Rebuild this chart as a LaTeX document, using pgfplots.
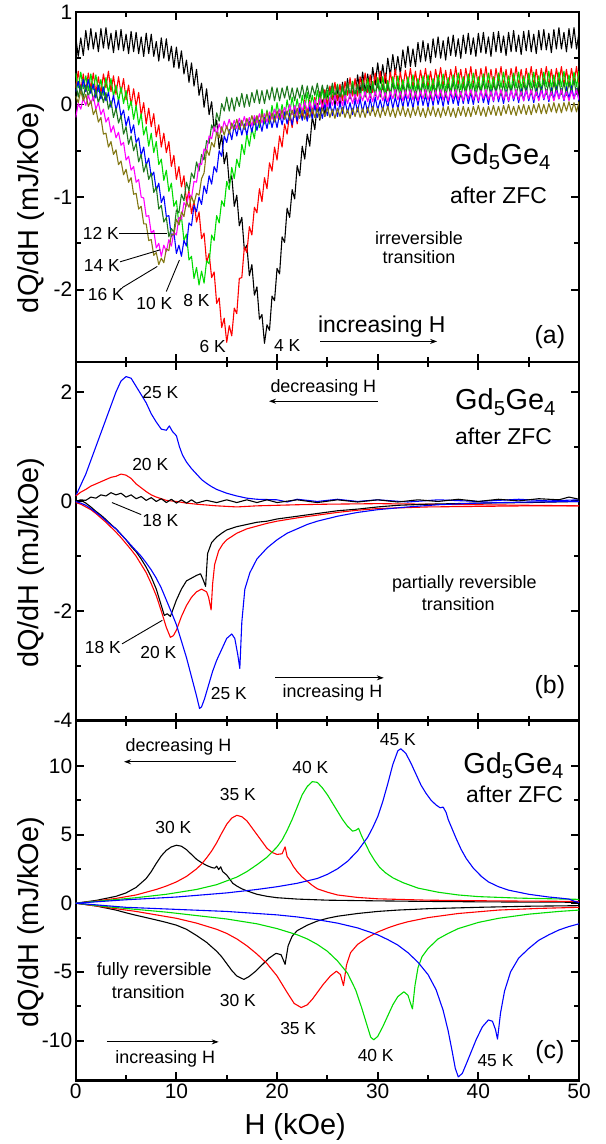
\documentclass[border=0pt]{standalone}
\usepackage{fontspec}
\setmainfont{Liberation Sans}
\usepackage{pgfplots}
\usepackage{pgfplotstable}
\pgfplotsset{compat=1.18}
\usetikzlibrary{arrows.meta}

\definecolor{lgreen}{RGB}{0,220,0}
\definecolor{dkgreen}{RGB}{30,120,30}
\definecolor{olive2}{RGB}{130,120,20}
\definecolor{mag}{RGB}{255,0,255}

\newcommand\fT{\fontsize{18}{20}\selectfont}
\newcommand\fK{\fontsize{17.5}{20}\selectfont}
\newcommand\fG{\fontsize{29}{32}\selectfont}
\newcommand\fZ{\fontsize{23}{26}\selectfont}
\newcommand\fP{\fontsize{25}{28}\selectfont}
\newcommand\Gd{Gd\textsubscript{5}Ge\textsubscript{4}}

% panel (a): field-increasing runs at low T, one column per temperature
\pgfplotstableread{
H k4 k6 k8 k10 k12 k14 k16
0 .73 .18 .34 .14 .23 -.14 .09
0.25 .52 .36 .18 .25 .08 .01 .02
0.5 .72 .15 .35 .12 .21 -.05 .15
0.75 .53 .33 .17 .27 .07 .07 .04
1 .80 .14 .31 .14 .21 -.01 .11
1.25 .59 .34 .15 .27 .08 .10 -.02
1.5 .82 .17 .33 .12 .20 .01 .04
1.75 .60 .34 .16 .22 .04 .09 -.11
2 .78 .12 .32 .07 .16 -.05 -.05
2.25 .57 .30 .14 .21 .01 .02 -.19
2.5 .82 .12 .27 .06 .14 -.11 -.14
2.75 .61 .33 .10 .19 .02 -.05 -.32
3 .83 .18 .29 .04 .13 -.19 -.31
3.25 .60 .36 .12 .13 -.05 -.14 -.46
3.5 .77 .14 .28 -.03 .04 -.30 -.40
3.75 .56 .31 .09 .10 -.14 -.23 -.54
4 .80 .11 .21 -.06 -.04 -.36 -.49
4.25 .59 .30 .03 .05 -.20 -.30 -.65
4.5 .81 .12 .19 -.13 -.12 -.44 -.61
4.75 .58 .28 .01 -.06 -.32 -.41 -.76
5 .76 .05 .15 -.23 -.24 -.60 -.70
5.25 .55 .21 -.06 -.13 -.43 -.56 -.84
5.5 .79 -.01 .04 -.31 -.34 -.71 -.79
5.75 .57 .17 -.16 -.22 -.50 -.67 -.97
6 .78 -.02 -.01 -.41 -.42 -.84 -.96
6.25 .55 .13 -.22 -.36 -.62 -.81 -1.13
6.5 .73 -.12 -.10 -.55 -.54 -1.00 -1.10
6.75 .52 .02 -.33 -.46 -.73 -1.01 -1.29
7 .77 -.21 -.24 -.66 -.64 -1.21 -1.29
7.25 .55 -.04 -.45 -.58 -.81 -1.20 -1.47
7.5 .76 -.24 -.31 -.78 -.74 -1.39 -1.46
7.75 .52 -.10 -.52 -.73 -.95 -1.36 -1.63
8 .68 -.35 -.40 -.93 -.89 -1.55 -1.60
8.25 .47 -.22 -.65 -.85 -1.13 -1.50 -1.73
8.5 .72 -.46 -.59 -1.06 -1.09 -1.64 -1.66
8.75 .50 -.31 -.82 -.99 -1.27 -1.52 -1.71
9 .71 -.52 -.71 -1.21 -1.22 -1.59 -1.56
9.25 .47 -.40 -.94 -1.20 -1.43 -1.46 -1.58
9.5 .63 -.67 -.85 -1.43 -1.34 -1.53 -1.40
9.75 .40 -.55 -1.10 -1.38 -1.38 -1.38 -1.41
10 .62 -.81 -1.04 -1.61 -1.14 -1.41 -1.24
10.25 .39 -.67 -1.30 -1.52 -1.17 -1.22 -1.30
10.5 .58 -.89 -1.21 -1.64 -.97 -1.24 -1.16
10.75 .33 -.77 -1.47 -1.47 -1.04 -1.06 -1.21
11 .48 -1.05 -1.40 -1.53 -.84 -1.10 -1.05
11.25 .24 -.93 -1.68 -1.28 -.93 -.96 -1.11
11.5 .45 -1.18 -1.64 -1.31 -.74 -1.01 -.99
11.75 .20 -1.04 -1.88 -1.09 -.80 -.83 -1.07
12 .38 -1.27 -1.76 -1.16 -.62 -.84 -.96
12.25 .10 -1.16 -1.95 -1.00 -.72 -.64 -.98
12.5 .23 -1.45 -1.80 -1.08 -.54 -.65 -.80
12.75 -.03 -1.39 -1.93 -.88 -.60 -.48 -.74
13 .17 -1.71 -1.69 -.96 -.39 -.51 -.49
13.25 -.11 -1.61 -1.72 -.77 -.42 -.34 -.55
13.5 .03 -1.87 -1.41 -.86 -.22 -.37 -.41
13.75 -.27 -1.81 -1.47 -.67 -.29 -.24 -.46
14 -.17 -2.15 -1.20 -.73 -.09 -.32 -.30
14.25 -.48 -2.09 -1.28 -.50 -.18 -.21 -.36
14.5 -.33 -2.41 -1.04 -.56 .01 -.30 -.24
14.75 -.64 -2.31 -1.10 -.34 -.07 -.18 -.33
15 -.52 -2.57 -.83 -.41 .08 -.26 -.23
15.25 -.85 -2.39 -.92 -.27 -.07 -.16 -.32
15.5 -.77 -2.50 -.68 -.38 .07 -.26 -.20
15.75 -1.10 -2.20 -.80 -.22 -.07 -.17 -.27
16 -.98 -2.26 -.59 -.34 .08 -.26 -.16
16.25 -1.31 -1.88 -.68 -.20 -.02 -.15 -.27
16.5 -1.22 -1.87 -.43 -.33 .12 -.23 -.17
16.75 -1.57 -1.54 -.54 -.21 -.03 -.13 -.27
17 -1.52 -1.60 -.32 -.33 .11 -.23 -.15
17.25 -1.85 -1.32 -.45 -.18 -.02 -.14 -.23
17.5 -1.73 -1.41 -.26 -.30 .13 -.23 -.12
17.75 -2.06 -1.11 -.37 -.15 .02 -.12 -.22
18 -1.97 -1.17 -.13 -.28 .16 -.20 -.12
18.25 -2.32 -.91 -.25 -.17 .01 -.10 -.22
18.5 -2.27 -1.05 -.05 -.29 .15 -.20 -.10
18.75 -2.58 -.79 -.21 -.14 .01 -.10 -.19
19 -2.38 -.91 -.06 -.26 .16 -.19 -.08
19.25 -2.44 -.63 -.21 -.12 .05 -.08 -.19
19.5 -2.07 -.72 -.01 -.25 .19 -.16 -.09
19.75 -2.12 -.46 -.16 -.13 .04 -.05 -.19
20 -1.77 -.60 .02 -.25 .18 -.15 -.07
20.25 -1.83 -.34 -.15 -.10 .04 -.05 -.16
20.5 -1.43 -.46 .00 -.22 .18 -.15 -.06
20.75 -1.49 -.21 -.15 -.08 .07 -.03 -.16
21 -1.12 -.32 .05 -.21 .20 -.11 -.07
21.25 -1.22 -.09 -.10 -.09 .05 .00 -.17
21.5 -.92 -.25 .08 -.22 .18 -.11 -.06
21.75 -1.02 -.04 -.09 -.06 .04 -.01 -.14
22 -.66 -.21 .06 -.18 .18 -.11 -.04
22.25 -.77 .01 -.10 -.04 .07 .01 -.15
22.5 -.45 -.14 .10 -.17 .21 -.07 -.06
22.75 -.59 .05 -.05 -.06 .06 .03 -.16
23 -.32 -.15 .13 -.18 .20 -.07 -.05
23.25 -.45 .05 -.05 -.03 .06 .03 -.14
23.5 -.13 -.13 .10 -.15 .20 -.07 -.04
23.75 -.27 .08 -.05 -.01 .10 .05 -.14
24 .01 -.07 .15 -.14 .23 -.04 -.05
24.25 -.17 .14 .00 -.03 .08 .07 -.15
24.5 .05 -.05 .17 -.15 .21 -.04 -.04
24.75 -.13 .16 .00 .00 .07 .06 -.13
25 .15 -.01 .15 -.12 .21 -.04 -.03
25.25 -.04 .20 .00 .02 .10 .08 -.14
25.5 .20 .05 .19 -.12 .23 -.01 -.05
25.75 -.02 .24 .04 .00 .08 .10 -.15
26 .18 .04 .22 -.13 .21 -.01 -.04
26.25 -.02 .22 .04 .02 .07 .08 -.13
26.5 .24 .04 .19 -.10 .21 -.01 -.03
26.75 .04 .25 .03 .04 .10 .10 -.14
27 .28 .10 .23 -.09 .23 .01 -.05
27.25 .06 .29 .07 .02 .08 .12 -.15
27.5 .25 .09 .25 -.11 .21 .01 -.04
27.75 .05 .28 .07 .05 .07 .11 -.13
28 .32 .09 .22 -.08 .21 .01 -.03
28.25 .12 .30 .06 .06 .10 .12 -.14
28.5 .35 .15 .26 -.08 .23 .04 -.04
28.75 .13 .34 .10 .04 .08 .14 -.14
29 .33 .13 .28 -.09 .21 .03 -.03
29.25 .13 .32 .10 .06 .07 .12 -.12
29.5 .40 .13 .25 -.07 .21 .03 -.02
29.75 .21 .34 .09 .08 .10 .14 -.13
30 .45 .18 .29 -.06 .23 .05 -.04
30.25 .23 .36 .13 .05 .08 .15 -.14
30.5 .43 .16 .30 -.07 .21 .04 -.03
30.75 .23 .34 .12 .08 .07 .13 -.12
31 .50 .15 .26 -.04 .21 .03 -.02
31.25 .31 .35 .10 .10 .10 .14 -.13
31.5 .54 .20 .30 -.04 .23 .06 -.04
31.75 .33 .38 .14 .08 .08 .16 -.14
32 .52 .17 .31 -.05 .21 .05 -.03
32.25 .33 .35 .13 .10 .07 .14 -.12
32.5 .59 .17 .27 -.03 .21 .04 -.02
32.75 .40 .37 .11 .12 .10 .15 -.13
33 .63 .21 .30 -.02 .23 .06 -.04
33.25 .41 .39 .14 .09 .08 .16 -.14
33.5 .60 .18 .32 -.04 .21 .05 -.03
33.75 .41 .36 .14 .12 .07 .14 -.12
34 .67 .17 .28 -.01 .21 .04 -.02
34.25 .46 .37 .12 .13 .10 .15 -.13
34.5 .69 .21 .31 -.01 .23 .06 -.04
34.75 .47 .39 .15 .10 .08 .16 -.14
35 .66 .18 .32 -.03 .21 .05 -.03
35.25 .45 .36 .14 .12 .07 .14 -.12
35.5 .71 .17 .28 -.01 .21 .04 -.02
35.75 .51 .38 .12 .14 .10 .15 -.13
36 .73 .22 .32 .00 .24 .06 -.04
36.25 .50 .40 .16 .11 .09 .16 -.14
36.5 .69 .19 .33 -.02 .22 .05 -.03
36.75 .48 .37 .15 .13 .08 .14 -.12
37 .73 .18 .29 .00 .22 .04 -.02
37.25 .53 .38 .13 .14 .11 .15 -.13
37.5 .75 .22 .32 .01 .24 .06 -.04
37.75 .52 .41 .16 .12 .09 .16 -.14
38 .71 .20 .34 -.01 .22 .05 -.03
38.25 .50 .38 .16 .14 .08 .14 -.12
38.5 .75 .19 .30 .01 .22 .04 -.02
38.75 .55 .39 .14 .15 .11 .15 -.13
39 .77 .23 .33 .01 .25 .06 -.03
39.25 .54 .41 .17 .13 .10 .16 -.13
39.5 .72 .20 .34 .00 .23 .05 -.02
39.75 .52 .38 .16 .15 .09 .14 -.11
40 .77 .19 .30 .02 .23 .04 -.01
40.25 .56 .39 .14 .16 .12 .15 -.12
40.5 .78 .23 .33 .02 .25 .06 -.03
40.75 .55 .41 .17 .13 .10 .16 -.13
41 .73 .20 .34 .00 .23 .05 -.02
41.25 .52 .38 .16 .16 .09 .14 -.11
41.5 .78 .19 .30 .03 .23 .04 -.01
41.75 .57 .39 .14 .17 .12 .15 -.12
42 .79 .23 .34 .03 .25 .06 -.02
42.25 .56 .41 .18 .14 .10 .16 -.12
42.5 .74 .20 .35 .01 .23 .05 -.01
42.75 .53 .38 .17 .16 .09 .14 -.10
43 .78 .19 .31 .03 .23 .04 .00
43.25 .57 .39 .15 .17 .12 .15 -.11
43.5 .80 .23 .34 .04 .25 .06 -.02
43.75 .57 .41 .18 .15 .10 .16 -.12
44 .75 .20 .35 .02 .23 .05 -.01
44.25 .54 .38 .17 .17 .09 .14 -.10
44.5 .79 .19 .31 .04 .23 .04 .00
44.75 .58 .39 .15 .18 .12 .15 -.11
45 .80 .23 .34 .04 .26 .06 -.01
45.25 .57 .41 .18 .15 .11 .16 -.11
45.5 .76 .20 .35 .02 .24 .05 .00
45.75 .55 .38 .17 .17 .10 .14 -.09
46 .80 .19 .31 .05 .24 .04 .01
46.25 .59 .39 .15 .19 .13 .15 -.10
46.5 .81 .23 .35 .05 .26 .06 .00
46.75 .59 .41 .19 .16 .11 .16 -.10
47 .77 .20 .36 .03 .24 .05 .01
47.25 .56 .38 .18 .18 .10 .14 -.08
47.5 .81 .19 .32 .05 .24 .04 .02
47.75 .60 .39 .16 .19 .13 .15 -.09
48 .83 .23 .35 .06 .26 .06 .01
48.25 .60 .41 .19 .17 .11 .16 -.09
48.5 .78 .20 .36 .04 .24 .05 .02
48.75 .57 .38 .18 .19 .10 .14 -.07
49 .82 .19 .32 .06 .24 .04 .03
49.25 .61 .39 .16 .20 .13 .15 -.08
49.5 .83 .23 .35 .06 .26 .06 .02
49.75 .60 .41 .19 .17 .11 .16 -.08
50 .78 .20 .36 .04 .24 .05 .03
}\lowT

\pgfplotsset{
  panel/.style={
    width=505pt, scale only axis,
    xmin=0, xmax=50, xtick={0,10,...,50}, minor x tick num=1,
    minor y tick num=1,
    axis line style={line width=2.4pt},
    tick align=inside, major tick length=8pt, minor tick length=5pt,
    tick style={line width=2pt, black},
    tick label style={font=\fontsize{21}{24}\selectfont},
    label style={font=\fontsize{29}{32}\selectfont},
    ylabel={dQ/dH (mJ/kOe)},
    every axis y label/.style={at={(axis description cs:-0.089,0.44)}, rotate=90,
      anchor=center, font=\fontsize{29}{32}\selectfont},
    /pgf/number format/assume math mode=true,
    no markers,
    every axis plot/.append style={line width=1.1pt, line join=round},
  },
}

\begin{document}
\begin{tikzpicture}
% ---------------- (a) irreversible ----------------
\begin{axis}[panel, name=a, at={(0,0)}, anchor=north west,
    height=351pt, ymin=-2.78, ymax=1, ytick={-2,-1,0,1}, xticklabels={}]
  \addplot[black]  table[x=H, y=k4]  {\lowT};
  \addplot[red]    table[x=H, y=k6]  {\lowT};
  \addplot[lgreen] table[x=H, y=k8]  {\lowT};
  \addplot[blue]   table[x=H, y=k10] {\lowT};
  \addplot[dkgreen] table[x=H, y=k12] {\lowT};
  \addplot[mag]    table[x=H, y=k14] {\lowT};
  \addplot[olive2] table[x=H, y=k16] {\lowT};

  \node[font=\fK] at (axis cs:2.5,-1.39) {12 K};
  \draw[line width=0.9pt] (axis cs:4.3,-1.39) -- (axis cs:9.1,-1.39);
  \node[font=\fK] at (axis cs:2.6,-1.74) {14 K};
  \draw[line width=0.9pt] (axis cs:4.4,-1.70) -- (axis cs:8.4,-1.57);
  \node[font=\fK] at (axis cs:3.0,-2.05) {16 K};
  \draw[line width=0.9pt] (axis cs:4.6,-1.98) -- (axis cs:8.1,-1.75);
  \node[font=\fK] at (axis cs:7.8,-2.15) {10 K};
  \draw[line width=0.9pt] (axis cs:9.0,-2.02) -- (axis cs:10.3,-1.68);
  \node[font=\fK] at (axis cs:12.0,-2.12) {8 K};
  \node[font=\fK] at (axis cs:13.6,-2.62) {6 K};
  \node[font=\fK] at (axis cs:21.0,-2.60) {4 K};

  \node[font=\fontsize{23}{26}\selectfont] at (axis cs:30.4,-2.40) {increasing H};
  \draw[line width=0.9pt, -{Stealth[length=7pt,width=5pt]}] (axis cs:24.3,-2.56) -- (axis cs:35.9,-2.56);
  \node[font=\fP] at (axis cs:47.1,-2.51) {(a)};
  \node[font=\fG] at (axis cs:42.2,-0.56) {\Gd};
  \node[font=\fZ] at (axis cs:42.0,-0.98) {after ZFC};
  \node[font=\fT] at (axis cs:34.1,-1.44) {irreversible};
  \node[font=\fT] at (axis cs:34.1,-1.65) {transition};
\end{axis}

% ---------------- (b) partially reversible ----------------
\begin{axis}[panel, name=b, at={(a.south west)}, anchor=north west,
    height=360pt, ymin=-4, ymax=2.55, ytick={-4,-2,0,2}, xticklabels={}]
  % 25 K decreasing field
  \addplot[blue] coordinates {(0,0.1)(0.5,0.3)(1,0.5)(1.5,0.75)(2,1.0)(2.5,1.25)(3,1.5)(3.5,1.75)(4,2.0)(4.5,2.2)(5,2.28)(5.5,2.25)(6,2.1)(6.5,1.95)(7,1.8)(7.5,1.6)(8,1.45)(8.5,1.32)(9,1.3)(9.3,1.38)(9.6,1.28)(10,1.2)(10.3,1.0)(10.6,0.85)(11,0.72)(11.5,0.6)(12,0.5)(12.5,0.4)(13,0.33)(13.5,0.27)(14,0.22)(15,0.15)(16,0.1)(17,0.06)(18,0.04)(20,0.03)(21,-0.01)(22,0.04)(24,0.0)(26,0.04)(28,0.0)(30,0.03)(33,-0.01)(36,0.03)(40,0.0)(44,0.04)(47,0.01)(50,0.03)};
  % 20 K decreasing field
  \addplot[red] coordinates {(0,0.1)(0.5,0.17)(1,0.22)(1.5,0.28)(2,0.32)(2.5,0.36)(3,0.4)(3.5,0.44)(4,0.46)(4.5,0.5)(5,0.48)(5.5,0.42)(6,0.32)(6.5,0.25)(7,0.18)(7.5,0.12)(8,0.08)(9,0.02)(10,0.0)(11,-0.03)(12,-0.05)(14,-0.08)(16,-0.1)(18,-0.08)(20,-0.07)(22,-0.06)(25,-0.05)(30,-0.04)(35,-0.05)(40,-0.06)(45,-0.07)(50,-0.08)};
  % 18 K decreasing field
  \addplot[black] coordinates {(0,0.0)(0.5,0.03)(1,0.02)(1.5,0.08)(2,0.06)(2.5,0.12)(3,0.1)(3.5,0.16)(4,0.12)(4.5,0.15)(5,0.08)(5.5,0.12)(6,0.05)(6.5,0.09)(7,0.02)(7.5,0.07)(8,0.0)(8.5,0.05)(9,-0.02)(9.5,0.04)(10,-0.03)(10.5,0.03)(11,-0.03)(11.5,0.03)(12,-0.03)(13,0.02)(14,-0.02)(15,0.03)(16,-0.02)(17,0.03)(18,-0.02)(19,0.03)(20,-0.02)(22,0.03)(24,-0.02)(26,0.03)(28,-0.01)(30,0.03)(32,-0.01)(34,0.03)(36,0.0)(38,0.04)(40,0.0)(42,0.04)(44,0.01)(46,0.05)(48,0.03)(49,0.08)(50,0.04)};
  % 18 K increasing field
  \addplot[black] coordinates {(0,0.0)(0.5,0.02)(1,-0.03)(1.5,-0.1)(2,-0.18)(2.5,-0.25)(3,-0.33)(3.5,-0.42)(4,-0.5)(4.5,-0.6)(5,-0.7)(5.5,-0.82)(6,-0.92)(6.5,-1.05)(7,-1.2)(7.5,-1.38)(8,-1.6)(8.5,-1.9)(8.8,-2.08)(9.1,-2.05)(9.4,-2.1)(9.7,-1.95)(10,-1.8)(10.5,-1.6)(11,-1.45)(11.5,-1.4)(12,-1.35)(12.4,-1.32)(12.7,-1.45)(12.9,-1.55)(13.1,-0.95)(13.5,-0.75)(14,-0.65)(14.5,-0.58)(15,-0.52)(16,-0.46)(17,-0.42)(18,-0.38)(19,-0.36)(20,-0.32)(22,-0.27)(24,-0.22)(26,-0.17)(28,-0.14)(30,-0.1)(32,-0.07)(35,-0.05)(40,-0.03)(45,-0.02)(50,0.0)};
  % 20 K increasing field
  \addplot[red] coordinates {(0,-0.02)(0.5,-0.05)(1,-0.1)(1.5,-0.15)(2,-0.22)(2.5,-0.3)(3,-0.38)(3.5,-0.47)(4,-0.56)(4.5,-0.66)(5,-0.77)(5.5,-0.88)(6,-1.0)(6.5,-1.15)(7,-1.3)(7.5,-1.5)(8,-1.72)(8.5,-2.0)(9,-2.3)(9.4,-2.48)(9.7,-2.45)(10,-2.35)(10.5,-2.1)(11,-1.9)(11.5,-1.75)(12,-1.65)(12.5,-1.6)(13,-1.65)(13.2,-1.75)(13.45,-1.98)(13.6,-1.5)(13.8,-1.15)(14.2,-0.9)(14.6,-0.78)(15,-0.7)(16,-0.58)(17,-0.5)(18,-0.45)(19,-0.4)(20,-0.36)(22,-0.3)(24,-0.25)(26,-0.2)(28,-0.16)(30,-0.13)(35,-0.1)(40,-0.09)(45,-0.08)(50,-0.08)};
  % 25 K increasing field
  \addplot[blue] coordinates {(0,0.0)(0.5,-0.03)(1,-0.07)(1.5,-0.13)(2,-0.2)(2.5,-0.27)(3,-0.35)(3.5,-0.43)(4,-0.5)(4.5,-0.6)(5,-0.7)(5.5,-0.8)(6,-0.9)(6.5,-1.0)(7,-1.12)(7.5,-1.25)(8,-1.4)(8.5,-1.58)(9,-1.8)(9.5,-2.02)(10,-2.25)(10.5,-2.55)(11,-2.85)(11.5,-3.2)(12,-3.55)(12.3,-3.78)(12.5,-3.75)(12.8,-3.6)(13.2,-3.35)(13.6,-3.1)(14,-2.9)(14.5,-2.7)(15,-2.5)(15.5,-2.42)(15.8,-2.5)(16.1,-2.8)(16.3,-3.05)(16.5,-2.2)(16.8,-1.6)(17.3,-1.3)(18,-1.05)(19,-0.85)(20,-0.7)(21,-0.58)(22,-0.5)(23,-0.42)(24,-0.36)(26,-0.27)(28,-0.2)(30,-0.15)(33,-0.1)(36,-0.06)(40,-0.03)(45,-0.01)(50,0.0)};

  \node[font=\fK] at (axis cs:8.4,1.99) {25 K};
  \node[font=\fK] at (axis cs:7.4,0.68) {20 K};
  \node[font=\fK] at (axis cs:8.4,-0.34) {18 K};
  \draw[line width=0.9pt] (axis cs:3.6,-0.02) -- (axis cs:6.5,-0.24);
  \node[font=\fK] at (axis cs:2.7,-2.67) {18 K};
  \draw[line width=0.9pt] (axis cs:4.6,-2.6) -- (axis cs:8.6,-2.17);
  \node[font=\fK] at (axis cs:8.2,-2.76) {20 K};
  \node[font=\fK] at (axis cs:15.2,-3.5) {25 K};

  \node[font=\fT] at (axis cs:24.6,2.08) {decreasing H};
  \draw[line width=0.9pt, -{Stealth[length=7pt,width=5pt]}] (axis cs:30.0,1.83) -- (axis cs:19.2,1.83);
  \node[font=\fT] at (axis cs:25.5,-3.5) {increasing H};
  \draw[line width=0.9pt, -{Stealth[length=7pt,width=5pt]}] (axis cs:19.8,-3.22) -- (axis cs:30.6,-3.22);
  \node[font=\fP] at (axis cs:47.1,-3.38) {(b)};
  \node[font=\fG] at (axis cs:42.7,1.81) {\Gd};
  \node[font=\fZ] at (axis cs:42.5,1.19) {after ZFC};
  \node[font=\fT] at (axis cs:38.6,-1.51) {partially reversible};
  \node[font=\fT] at (axis cs:38.0,-1.88) {transition};
\end{axis}

% ---------------- (c) fully reversible ----------------
\begin{axis}[panel, name=c, at={(b.south west)}, anchor=north west,
    height=361pt, ymin=-12.9, ymax=13.3, ytick={-10,-5,0,5,10},
    xlabel={H (kOe)},
    xlabel style={at={(axis description cs:0.436,0)}, anchor=north, yshift=-30pt}]
  % 30 K
  \addplot[black] coordinates {(0,0)(1,0.1)(2,0.2)(3,0.35)(4,0.5)(5,0.75)(6,1.15)(7,1.8)(7.5,2.3)(8,2.9)(8.5,3.45)(9,3.85)(9.5,4.1)(10,4.22)(10.5,4.15)(11,3.9)(11.5,3.55)(12,3.2)(12.5,2.95)(13,2.75)(13.5,2.6)(13.8,2.55)(14,2.7)(14.2,2.45)(14.4,2.65)(14.6,2.3)(15,2.05)(15.3,1.75)(15.6,1.45)(16,1.25)(16.5,1.05)(17,0.9)(18,0.65)(19,0.5)(20,0.4)(22,0.3)(25,0.22)(30,0.17)(35,0.13)(40,0.1)(45,0.08)(50,0.07)};
  \addplot[black] coordinates {(0,0)(1,-0.1)(2,-0.2)(3,-0.35)(4,-0.5)(5,-0.7)(6,-0.88)(7,-1.05)(8,-1.22)(9,-1.4)(10,-1.6)(11,-1.9)(12,-2.35)(13,-2.85)(14,-3.5)(14.5,-3.9)(15,-4.4)(15.5,-4.9)(16,-5.3)(16.7,-5.55)(17.2,-5.35)(17.8,-5.0)(18.5,-4.5)(19.2,-4.0)(19.9,-3.65)(20.4,-3.75)(20.8,-4.45)(21.1,-3.1)(21.5,-2.4)(22,-2.0)(23,-1.6)(24,-1.3)(25,-1.1)(26,-0.95)(27,-0.85)(28,-0.75)(30,-0.6)(32,-0.5)(35,-0.4)(40,-0.3)(45,-0.22)(50,-0.18)};
  % 35 K
  \addplot[red] coordinates {(0,0)(2,0.15)(4,0.35)(6,0.6)(7,0.8)(8,1.0)(9,1.25)(10,1.55)(11,1.95)(12,2.5)(12.5,2.85)(13,3.3)(13.5,3.8)(14,4.4)(14.5,5.1)(15,5.75)(15.5,6.2)(16,6.4)(16.5,6.3)(17,6.0)(17.5,5.5)(18,5.0)(18.5,4.5)(19,4.0)(19.5,3.7)(20,3.55)(20.5,3.6)(20.8,4.1)(21,3.4)(21.3,3.1)(21.6,2.7)(22,2.3)(22.5,1.9)(23,1.6)(23.5,1.3)(24,1.05)(25,0.8)(26,0.6)(28,0.42)(30,0.32)(35,0.22)(40,0.18)(45,0.15)(50,0.13)};
  \addplot[red] coordinates {(0,0)(2,-0.2)(4,-0.4)(6,-0.6)(8,-0.85)(10,-1.1)(12,-1.45)(14,-1.9)(15,-2.2)(16,-2.6)(17,-3.1)(18,-3.7)(19,-4.4)(20,-5.3)(21,-6.5)(21.7,-7.3)(22.4,-7.6)(23,-7.4)(23.5,-7.0)(24,-6.5)(24.6,-5.9)(25.3,-5.3)(25.9,-4.95)(26.3,-5.2)(26.6,-6.0)(26.9,-4.5)(27.3,-3.6)(28,-3.0)(29,-2.5)(30,-2.1)(31,-1.8)(32,-1.55)(33,-1.35)(35,-1.05)(38,-0.75)(42,-0.5)(46,-0.38)(50,-0.3)};
  % 40 K
  \addplot[lgreen] coordinates {(0,0)(3,0.2)(6,0.4)(9,0.65)(12,1.0)(14,1.35)(16,1.9)(17,2.3)(18,2.8)(19,3.35)(20,4.1)(20.5,4.6)(21,5.3)(21.5,6.1)(22,7.0)(22.5,7.9)(23,8.5)(23.5,8.85)(24,8.8)(24.5,8.4)(25,7.9)(25.5,7.3)(26,6.7)(26.5,6.1)(27,5.6)(27.5,5.25)(27.8,5.3)(28.1,5.45)(28.4,4.9)(28.8,4.3)(29.2,3.7)(29.7,3.1)(30.2,2.6)(30.8,2.2)(31.5,1.85)(32.5,1.5)(34,1.1)(36,0.8)(38,0.6)(40,0.48)(44,0.37)(50,0.28)};
  \addplot[lgreen] coordinates {(0,0)(3,-0.25)(6,-0.45)(9,-0.65)(12,-0.9)(15,-1.15)(18,-1.5)(20,-1.85)(22,-2.3)(23,-2.6)(24,-3.0)(25,-3.5)(26,-4.2)(27,-5.1)(27.8,-6.3)(28.4,-7.6)(28.9,-8.8)(29.3,-9.75)(29.6,-9.95)(30,-9.7)(30.5,-9.0)(31,-8.2)(31.5,-7.4)(32,-6.8)(32.6,-6.45)(33,-6.7)(33.45,-7.7)(33.7,-6.0)(34,-4.7)(34.4,-3.9)(35,-3.3)(36,-2.6)(37,-2.2)(38,-1.85)(40,-1.4)(42,-1.1)(45,-0.8)(48,-0.6)(50,-0.5)};
  % 45 K
  \addplot[blue] coordinates {(0,0)(5,0.25)(10,0.45)(15,0.75)(18,1.0)(20,1.2)(22,1.45)(24,1.8)(25,2.1)(26,2.5)(27,3.05)(28,3.8)(29,4.8)(29.5,5.5)(30,6.3)(30.5,7.4)(31,8.7)(31.5,10.1)(32,11.1)(32.3,11.25)(32.8,10.9)(33.3,10.2)(33.8,9.4)(34.3,8.6)(34.8,8.0)(35.3,7.5)(35.8,7.15)(36.2,6.95)(36.5,7.0)(36.8,6.6)(37,6.1)(37.4,5.4)(37.8,4.7)(38.3,3.9)(38.8,3.25)(39.5,2.55)(40.3,1.95)(41,1.55)(42,1.2)(43,0.95)(44,0.8)(45,0.65)(46,0.55)(47,0.45)(48,0.38)(49,0.3)(49.5,0.15)(50,0.05)};
  \addplot[blue] coordinates {(0,0)(5,-0.3)(10,-0.45)(15,-0.6)(18,-0.75)(20,-0.85)(22,-1.0)(24,-1.2)(26,-1.45)(28,-1.8)(30,-2.3)(31,-2.65)(32,-3.05)(33,-3.6)(34,-4.3)(35,-5.2)(35.8,-6.3)(36.5,-7.8)(37,-9.3)(37.4,-10.8)(37.7,-12.0)(38,-12.65)(38.4,-12.4)(38.8,-11.7)(39.3,-10.8)(39.8,-9.9)(40.4,-9.0)(41,-8.5)(41.4,-8.6)(41.7,-9.2)(41.9,-9.9)(42.2,-8.0)(42.6,-6.4)(43.2,-5.0)(44,-4.0)(45,-3.3)(46,-2.7)(47,-2.3)(48,-1.95)(49,-1.7)(50,-1.5)};

  \node[font=\fT] at (axis cs:10.2,11.4) {decreasing H};
  \draw[line width=0.9pt, -{Stealth[length=7pt,width=5pt]}] (axis cs:15.9,10.3) -- (axis cs:4.8,10.3);
  \node[font=\fK] at (axis cs:32.0,11.9) {45 K};
  \node[font=\fK] at (axis cs:23.3,9.9) {40 K};
  \node[font=\fK] at (axis cs:16.1,7.9) {35 K};
  \node[font=\fK] at (axis cs:9.7,5.5) {30 K};
  \node[font=\fG] at (axis cs:43.5,10.0) {\Gd};
  \node[font=\fZ] at (axis cs:43.6,7.9) {after ZFC};
  \node[font=\fT] at (axis cs:7.8,-4.94) {fully reversible};
  \node[font=\fT] at (axis cs:7.2,-6.5) {transition};
  \node[font=\fK] at (axis cs:16.1,-7.1) {30 K};
  \node[font=\fK] at (axis cs:22.1,-9.15) {35 K};
  \node[font=\fK] at (axis cs:29.8,-11.1) {40 K};
  \node[font=\fK] at (axis cs:41.7,-11.45) {45 K};
  \node[font=\fT] at (axis cs:8.9,-11.3) {increasing H};
  \draw[line width=0.9pt, -{Stealth[length=7pt,width=5pt]}] (axis cs:3.1,-10.1) -- (axis cs:14.2,-10.1);
  \node[font=\fP] at (axis cs:47.1,-10.85) {(c)};
\end{axis}

\path ([xshift=-76pt,yshift=12pt]a.north west) rectangle ([xshift=27pt,yshift=-61pt]c.south east);
\end{tikzpicture}
\end{document}
